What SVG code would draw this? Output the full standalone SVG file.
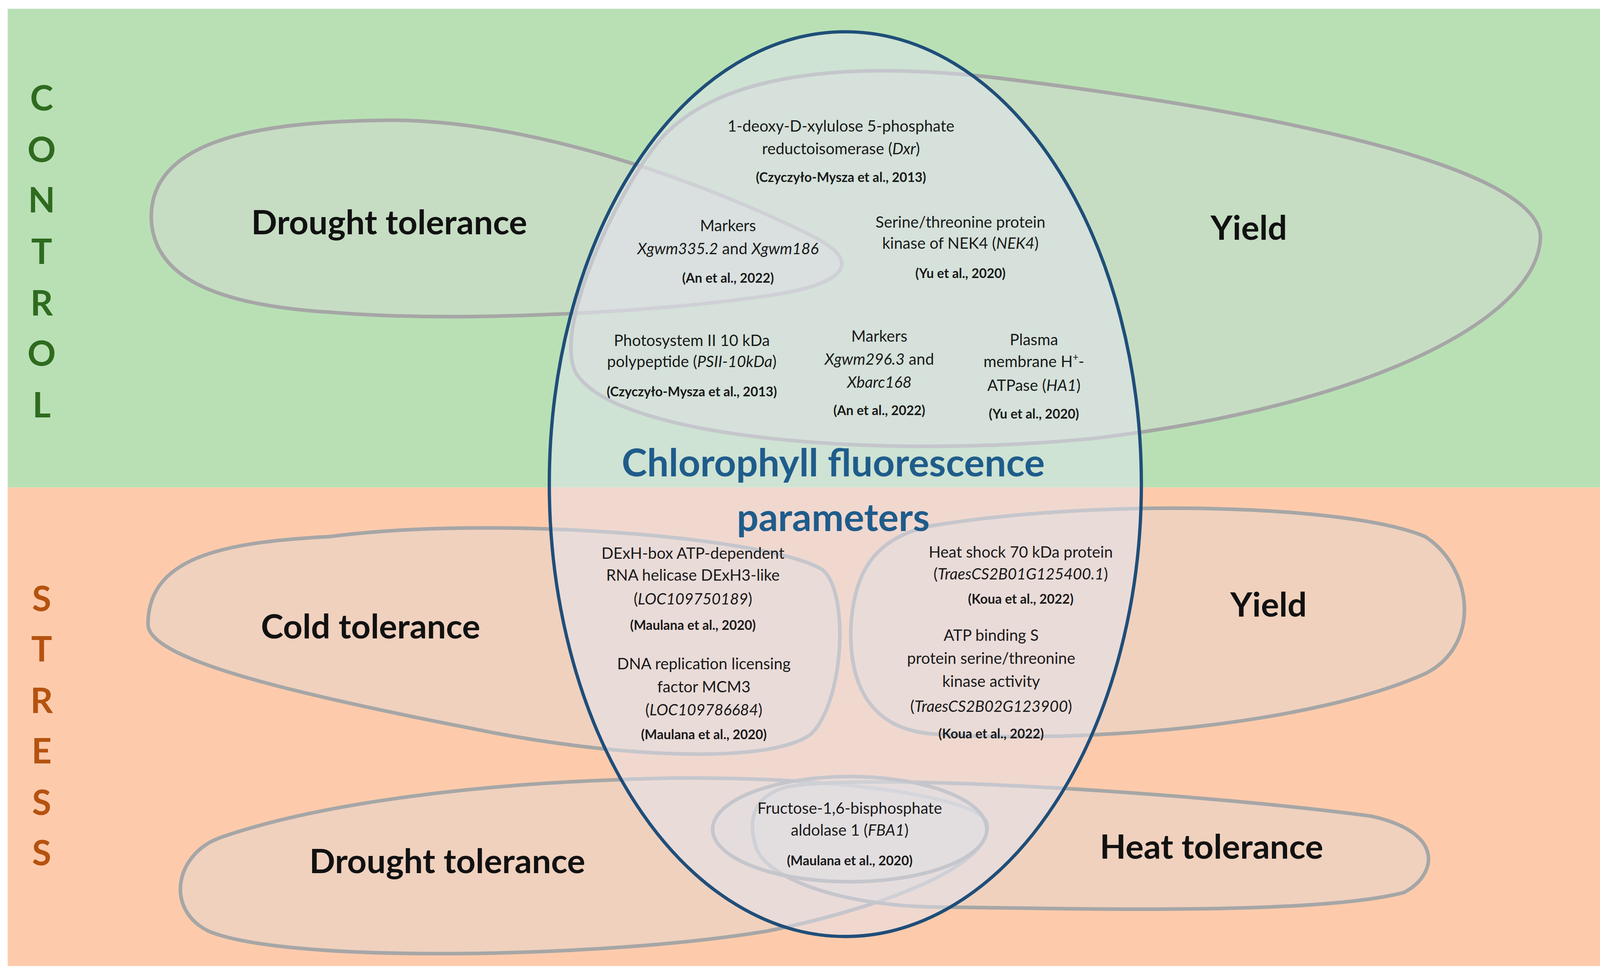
<svg xmlns="http://www.w3.org/2000/svg" width="4401" height="2502" viewBox="0 0 4401 2502">
<style>
.blob{fill:#d9d9d9;fill-opacity:0.4;stroke:#a6a6a6;stroke-width:3.3}
.t{font-family:Lato,"Liberation Sans",sans-serif;font-size:14.3px;fill:#1a1a1a;text-anchor:middle}
.c{font-family:Lato,"Liberation Sans",sans-serif;font-size:12px;font-weight:bold;fill:#1a1a1a;text-anchor:middle}
.big{font-family:Lato,"Liberation Sans",sans-serif;font-size:31px;font-weight:bold;fill:#111;text-anchor:middle}
.ttl{font-family:Lato,"Liberation Sans",sans-serif;font-size:35px;font-weight:bold;fill:#1f5c8b;text-anchor:middle}
.g{font-family:Lato,"Liberation Sans",sans-serif;font-size:32px;font-weight:bold;fill:#2e6b1f;text-anchor:middle}
.s{font-family:Lato,"Liberation Sans",sans-serif;font-size:32px;font-weight:bold;fill:#b5520f;text-anchor:middle}
</style>
<rect width="4401" height="2502" fill="#ffffff"/>
<g transform="scale(2.8068,2.805)">
<rect x="7" y="8" width="1553" height="437" fill="#b9e0b5"/>
<rect x="7" y="445" width="1553" height="437" fill="#fdcbac"/>
<g id="control-drought"><path class="blob" d="M 340,110 C 480,105 650,170 740,215 C 790,240 770,260 700,270 C 600,285 420,295 300,285 C 190,278 140,250 138,200 C 136,130 230,112 340,110 Z"/></g>
<g id="control-yield"><path class="blob" d="M 600,130 C 650,70 760,55 900,70 C 1150,100 1400,150 1405,215 C 1405,290 1250,370 1000,400 C 800,420 560,400 525,340 C 505,300 560,180 600,130 Z"/></g>
<g id="stress-cold"><path class="blob" d="M 300,490 C 450,470 700,490 750,520 C 775,540 770,640 740,670 C 700,700 550,690 430,665 C 250,630 135,600 135,570 C 135,510 200,495 300,490 Z"/></g>
<g id="stress-yield"><path class="blob" d="M 850,480 C 1000,455 1230,460 1300,490 C 1345,520 1350,590 1300,615 C 1200,660 1000,680 850,670 C 790,665 775,620 776,575 C 778,520 800,490 850,480 Z"/></g>
<g id="stress-drought"><path class="blob" d="M 560,712 C 700,705 880,720 900,750 C 910,790 800,830 700,850 C 550,875 260,880 190,850 C 150,830 160,780 200,765 C 300,730 450,716 560,712 Z"/></g>
<g id="stress-heat"><path class="blob" d="M 720,718 C 800,705 1100,725 1250,745 C 1320,760 1310,800 1280,815 C 1200,835 1000,830 850,828 C 760,826 700,800 690,775 C 680,745 690,725 720,718 Z"/></g>
<g id="fba1"><ellipse class="blob" cx="775" cy="757" rx="125" ry="48"/></g>
<g id="chlorophyll"><ellipse cx="771" cy="442" rx="270" ry="413" fill="#e4e6f2" fill-opacity="0.5" stroke="#1f4e79" stroke-width="3"/>
<text class="ttl" x="760" y="435">Chlorophyll fluorescence</text>
<text class="ttl" x="760" y="485">parameters</text></g>
<g id="labels">
<text class="big" x="355" y="214">Drought tolerance</text>
<text class="big" x="1139" y="219">Yield</text>
<text class="big" x="338" y="583">Cold tolerance</text>
<text class="big" x="1157" y="563">Yield</text>
<text class="big" x="408" y="797">Drought tolerance</text>
<text class="big" x="1105" y="784">Heat tolerance</text>
</g>
<g id="side">
<text class="g" x="38" y="101">C</text><text class="g" x="38" y="148">O</text><text class="g" x="38" y="194">N</text><text class="g" x="38" y="241">T</text><text class="g" x="38" y="288">R</text><text class="g" x="38" y="334">O</text><text class="g" x="38" y="381">L</text>
<text class="s" x="38" y="558">S</text><text class="s" x="38" y="604">T</text><text class="s" x="38" y="651">R</text><text class="s" x="38" y="697">E</text><text class="s" x="38" y="744">S</text><text class="s" x="38" y="790">S</text>
</g>
<g id="genes">
<text class="t" x="767" y="120">1-deoxy-D-xylulose 5-phosphate</text>
<text class="t" x="767" y="141">reductoisomerase (<tspan font-style="italic">Dxr</tspan>)</text>
<text class="c" x="767" y="166">(Czyczyło-Mysza  et al., 2013)</text>
<text class="t" x="664" y="211">Markers</text>
<text class="t" x="664" y="232"><tspan font-style="italic">Xgwm335.2</tspan> and <tspan font-style="italic">Xgwm186</tspan></text>
<text class="c" x="664" y="258">(An et al., 2022)</text>
<text class="t" x="876" y="208">Serine/threonine protein</text>
<text class="t" x="876" y="227">kinase of NEK4 (<tspan font-style="italic">NEK4</tspan>)</text>
<text class="c" x="876" y="254">(Yu et al., 2020)</text>
<text class="t" x="631" y="316">Photosystem II 10 kDa</text>
<text class="t" x="631" y="335">polypeptide (<tspan font-style="italic">PSII-10kDa</tspan>)</text>
<text class="c" x="631" y="362">(Czyczyło-Mysza  et al., 2013)</text>
<text class="t" x="802" y="312">Markers</text>
<text class="t" x="802" y="333"><tspan font-style="italic">Xgwm296.3</tspan> and</text>
<text class="t" x="802" y="354" font-style="italic">Xbarc168</text>
<text class="c" x="802" y="379">(An et al., 2022)</text>
<text class="t" x="943" y="315">Plasma</text>
<text class="t" x="943" y="335">membrane H<tspan font-size="9" dy="-6">+</tspan><tspan dy="6">-</tspan></text>
<text class="t" x="943" y="357">ATPase (<tspan font-style="italic">HA1</tspan>)</text>
<text class="c" x="943" y="382">(Yu et al., 2020)</text>
<text class="t" x="632" y="510">DExH-box ATP-dependent</text>
<text class="t" x="632" y="530">RNA helicase DExH3-like</text>
<text class="t" x="632" y="552">(<tspan font-style="italic">LOC109750189</tspan>)</text>
<text class="c" x="632" y="575">(Maulana  et al., 2020)</text>
<text class="t" x="642" y="611">DNA replication licensing</text>
<text class="t" x="642" y="632">factor MCM3</text>
<text class="t" x="642" y="653">(<tspan font-style="italic">LOC109786684</tspan>)</text>
<text class="c" x="642" y="675">(Maulana  et al., 2020)</text>
<text class="t" x="931" y="509">Heat shock 70 kDa protein</text>
<text class="t" x="931" y="529">(<tspan font-style="italic">TraesCS2B01G125400.1</tspan>)</text>
<text class="c" x="931" y="551">(Koua et al., 2022)</text>
<text class="t" x="904" y="585">ATP binding S</text>
<text class="t" x="904" y="606">protein serine/threonine</text>
<text class="t" x="904" y="627">kinase activity</text>
<text class="t" x="904" y="650">(<tspan font-style="italic">TraesCS2B02G123900</tspan>)</text>
<text class="c" x="904" y="674">(Koua et al., 2022)</text>
<text class="t" x="775" y="743">Fructose-1,6-bisphosphate</text>
<text class="t" x="775" y="763">aldolase 1 (<tspan font-style="italic">FBA1</tspan>)</text>
<text class="c" x="775" y="790">(Maulana  et al., 2020)</text>
</g>
<g id="connectors"/>
</g>
</svg>
